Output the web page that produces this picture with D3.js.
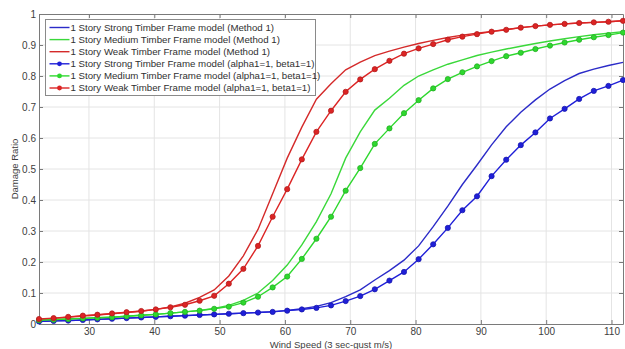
<!DOCTYPE html>
<html>
<head>
<meta charset="utf-8">
<script src="https://cdn.jsdelivr.net/npm/d3@7"></script>
<style>
  body { margin: 0; background: #fff; }
  text { font-family: "Liberation Sans", Arial, sans-serif; }
</style>
</head>
<body>
<div id="wrapper"></div>
<script>
// wind speed, 50..250 mph in 5 mph steps, as m/s
const windSpeed = [22.35, 24.59, 26.82, 29.06, 31.29, 33.53, 35.76, 38.00, 40.23, 42.47,
  44.70, 46.94, 49.17, 51.41, 53.64, 55.88, 58.12, 60.35, 62.59, 64.82,
  67.06, 69.30, 71.53, 73.76, 76.00, 78.23, 80.47, 82.70, 84.94, 87.17,
  89.41, 91.64, 93.88, 96.11, 98.35, 100.58, 102.82, 105.05, 107.29, 109.53, 111.76]

const strongMethod1 = [0.008, 0.010, 0.011, 0.013, 0.015, 0.017, 0.019, 0.021, 0.023, 0.025,
  0.027, 0.029, 0.031, 0.033, 0.035, 0.037, 0.040, 0.044, 0.049, 0.057,
  0.069, 0.088, 0.110, 0.142, 0.172, 0.206, 0.252, 0.314, 0.380, 0.450,
  0.513, 0.578, 0.636, 0.683, 0.723, 0.758, 0.785, 0.808, 0.822, 0.834, 0.844]
const mediumMethod1 = [0.012, 0.014, 0.016, 0.018, 0.020, 0.022, 0.025, 0.028, 0.031, 0.035,
  0.039, 0.044, 0.050, 0.060, 0.076, 0.100, 0.140, 0.190, 0.255, 0.330,
  0.420, 0.535, 0.620, 0.690, 0.728, 0.770, 0.800, 0.820, 0.838, 0.852,
  0.866, 0.877, 0.887, 0.896, 0.905, 0.913, 0.920, 0.927, 0.933, 0.938, 0.943]
const weakMethod1 = [0.015, 0.018, 0.022, 0.026, 0.029, 0.033, 0.037, 0.041, 0.047, 0.055,
  0.067, 0.086, 0.110, 0.155, 0.220, 0.305, 0.420, 0.535, 0.635, 0.725,
  0.775, 0.820, 0.845, 0.866, 0.880, 0.893, 0.905, 0.915, 0.924, 0.932,
  0.938, 0.944, 0.950, 0.956, 0.961, 0.965, 0.968, 0.971, 0.973, 0.975, 0.978]

const strongAlpha = [0.008, 0.010, 0.011, 0.013, 0.015, 0.017, 0.019, 0.021, 0.023, 0.025,
  0.027, 0.029, 0.031, 0.033, 0.035, 0.037, 0.039, 0.043, 0.047, 0.052,
  0.060, 0.074, 0.090, 0.112, 0.140, 0.168, 0.209, 0.257, 0.310, 0.367,
  0.412, 0.477, 0.530, 0.577, 0.618, 0.663, 0.694, 0.726, 0.752, 0.768, 0.787]
const mediumAlpha = [0.012, 0.014, 0.016, 0.018, 0.020, 0.022, 0.025, 0.028, 0.031, 0.035,
  0.039, 0.043, 0.049, 0.056, 0.069, 0.088, 0.118, 0.153, 0.210, 0.275,
  0.346, 0.430, 0.503, 0.581, 0.631, 0.680, 0.722, 0.760, 0.790, 0.812,
  0.831, 0.848, 0.864, 0.875, 0.887, 0.898, 0.908, 0.917, 0.925, 0.932, 0.940]
const weakAlpha = [0.016, 0.019, 0.023, 0.027, 0.030, 0.034, 0.038, 0.042, 0.047, 0.054,
  0.062, 0.075, 0.091, 0.130, 0.178, 0.252, 0.346, 0.435, 0.531, 0.620,
  0.688, 0.749, 0.789, 0.822, 0.849, 0.872, 0.889, 0.903, 0.917, 0.927,
  0.935, 0.943, 0.949, 0.956, 0.961, 0.965, 0.968, 0.971, 0.973, 0.975, 0.978]

const seriesNames = [
  "1 Story Strong Timber Frame model (Method 1)",
  "1 Story Medium Timber Frame model (Method 1)",
  "1 Story Weak Timber Frame model (Method 1)",
  "1 Story Strong Timber Frame model (alpha1=1, beta1=1)",
  "1 Story Medium Timber Frame model (alpha1=1, beta1=1)",
  "1 Story Weak Timber Frame model (alpha1=1, beta1=1)",
]
const seriesValues = [strongMethod1, mediumMethod1, weakMethod1, strongAlpha, mediumAlpha, weakAlpha]
const seriesColors = ["#2b2bc8", "#3ad83a", "#d42a2a", "#1f1fd8", "#2ed82e", "#dc2424"]
const seriesMarkers = [false, false, false, true, true, true]

const xTicks = [30, 40, 50, 60, 70, 80, 90, 100, 110]
const yTicks = [0, 0.1, 0.2, 0.3, 0.4, 0.5, 0.6, 0.7, 0.8, 0.9, 1]

const width = 625
const height = 349
const margin = { top: 14, right: 2, bottom: 25, left: 39 }

const svg = d3.select("#wrapper").append("svg")
  .attr("width", width)
  .attr("height", height)

const x = d3.scaleLinear()
  .domain([22.35, 111.76])
  .range([margin.left, width - margin.right])
const y = d3.scaleLinear()
  .domain([0, 1])
  .range([height - margin.bottom, margin.top])

// grid
svg.append("g").selectAll("line").data(xTicks).join("line")
  .attr("x1", d => x(d)).attr("x2", d => x(d))
  .attr("y1", y(0)).attr("y2", y(1))
  .attr("stroke", "#e4e4e4").attr("stroke-width", 1)
svg.append("g").selectAll("line").data(yTicks.slice(1, -1)).join("line")
  .attr("x1", x.range()[0]).attr("x2", x.range()[1])
  .attr("y1", d => y(d)).attr("y2", d => y(d))
  .attr("stroke", "#e4e4e4").attr("stroke-width", 1)

// axes (MATLAB style, ticks inward, box on)
const axisColor = "#7a7a7a"
const xAxis = svg.append("g")
  .attr("transform", `translate(0,${y(0)})`)
  .call(d3.axisBottom(x).tickValues(xTicks).tickSizeInner(-4).tickSizeOuter(0).tickPadding(4))
const yAxis = svg.append("g")
  .attr("transform", `translate(${x.range()[0]},0)`)
  .call(d3.axisLeft(y).tickValues(yTicks).tickFormat(d3.format("~g")).tickSizeInner(-4).tickSizeOuter(0).tickPadding(3))
const xTop = svg.append("g")
  .attr("transform", `translate(0,${y(1)})`)
  .call(d3.axisTop(x).tickValues(xTicks).tickSizeInner(-4).tickSizeOuter(0).tickFormat(""))
const yRight = svg.append("g")
  .attr("transform", `translate(${x.range()[1]},0)`)
  .call(d3.axisRight(y).tickValues(yTicks).tickSizeInner(-4).tickSizeOuter(0).tickFormat(""))
;[xAxis, yAxis, xTop, yRight].forEach(g => {
  g.select(".domain").attr("stroke", axisColor)
  g.selectAll(".tick line").attr("stroke", axisColor)
  g.selectAll(".tick text").attr("fill", "#404040").style("font-size", "10px")
    .style("font-family", "'Liberation Sans', Arial, sans-serif")
})

// axis labels
svg.append("text")
  .attr("x", (x.range()[0] + x.range()[1]) / 2)
  .attr("y", 348)
  .attr("text-anchor", "middle")
  .attr("fill", "#404040")
  .style("font-size", "9.5px")
  .text("Wind Speed (3 sec-gust m/s)")
svg.append("text")
  .attr("transform", `translate(18,${(y(0) + y(1)) / 2}) rotate(-90)`)
  .attr("text-anchor", "middle")
  .attr("fill", "#404040")
  .style("font-size", "9.5px")
  .text("Damage Ratio")

// series
const line = d3.line()
  .x((d, i) => x(windSpeed[i]))
  .y(d => y(d))

const plot = svg.append("g")
seriesValues.forEach((vals, k) => {
  plot.append("path")
    .datum(vals)
    .attr("fill", "none")
    .attr("stroke", seriesColors[k])
    .attr("stroke-width", 1.4)
    .attr("d", line)
  if (seriesMarkers[k]) {
    plot.append("g").selectAll("circle").data(vals).join("circle")
      .attr("cx", (d, i) => x(windSpeed[i]))
      .attr("cy", d => y(d))
      .attr("r", 2.6)
      .attr("fill", seriesColors[k])
      .attr("stroke", d3.color(seriesColors[k]).darker(0.6))
      .attr("stroke-width", 0.8)
  }
})

// legend
const legend = svg.append("g").attr("transform", "translate(45.5,19.5)")
legend.append("rect")
  .attr("width", 270)
  .attr("height", 76)
  .attr("fill", "#fff")
  .attr("stroke", "#8a8a8a")
  .attr("stroke-width", 1)
seriesNames.forEach((name, k) => {
  const ly = 8 + k * 12.1
  const row = legend.append("g").attr("transform", `translate(0,${ly})`)
  row.append("line")
    .attr("x1", 4).attr("x2", 24)
    .attr("stroke", seriesColors[k]).attr("stroke-width", 1.4)
  if (seriesMarkers[k]) {
    row.append("circle").attr("cx", 14).attr("r", 2.4)
      .attr("fill", seriesColors[k])
  }
  row.append("text")
    .attr("x", 25)
    .attr("dy", "0.35em")
    .attr("fill", "#303030")
    .style("font-size", "9.7px")
    .text(name)
})
</script>
</body>
</html>
